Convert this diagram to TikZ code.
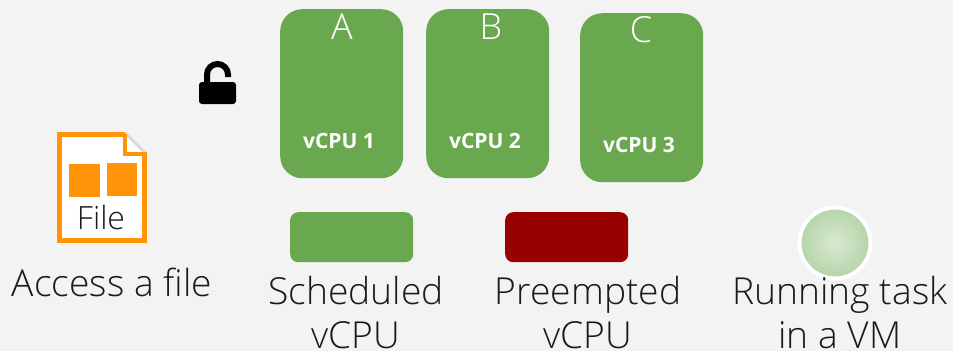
\documentclass[tikz,border=0pt]{standalone}
\usepackage{fontspec}
\setmainfont{Open Sans}
\newfontfamily\lightf{Open Sans Light}
\definecolor{bg}{HTML}{F3F3F3}
\definecolor{grn}{HTML}{6AA84F}
\definecolor{org}{HTML}{FF9409}
\definecolor{dred}{HTML}{990000}
\definecolor{txt}{HTML}{1A1A1A}
\tikzset{
 vcpu/.style={fill=grn,rounded corners=22pt,minimum width=123pt,minimum height=169pt,inner sep=0pt,anchor=north west},
 legendbox/.style={rounded corners=8pt,minimum width=123pt,minimum height=50pt,inner sep=0pt,anchor=north west},
 head/.style={text=white,font=\lightf\fontsize{36}{36}\selectfont,inner sep=0pt},
 cpulabel/.style={text=white,font=\fontsize{21}{21}\selectfont\bfseries,inner sep=0pt},
 caption/.style={text=txt,font=\lightf\fontsize{37.2}{44}\selectfont,align=center,inner sep=0pt},
}
\begin{document}
\begin{tikzpicture}[x=1pt,y=-1pt]
\useasboundingbox[fill=bg] (0,0) rectangle (953,351);
\node[vcpu] (a) at (280,9) {};
\node[vcpu] (b) at (426,9) {};
\node[vcpu] (c) at (580,13) {};
\node[head] (ah) at (342,27) {A};
\node[head] (bh) at (491,27) {B};
\node[head] (ch) at (641,30) {C};
\node[cpulabel] (a1) at (339,141) {vCPU 1};
\node[cpulabel] (b1) at (485,141) {vCPU 2};
\node[cpulabel] (c1) at (639,145) {vCPU 3};
% lock
\fill[black,rounded corners=3pt] (199,82) rectangle (236,104);
\draw[black,line width=6pt] (207,84) -- (207,74.5) arc[start angle=180,end angle=360,radius=10.5] -- (228,77);
% file
\fill[white] (59.5,134.5) -- (124,134.5) -- (144.5,155) -- (144.5,240.5) -- (59.5,240.5) -- cycle;
\draw[black!14,line width=2.5pt] (125,132.5) -- (147,154.5);
\draw[org,line width=5pt,line join=miter] (125,134.5) -- (59.5,134.5) -- (59.5,240.5) -- (144.5,240.5) -- (144.5,153);
\draw[org,line width=4pt,line join=miter] (124.5,134) -- (124.5,154) -- (147,154);
\fill[org] (69,164) rectangle (100,197);
\fill[org] (107,163) rectangle (137,196);
\node[text=txt,font=\lightf\fontsize{32}{32}\selectfont,inner sep=0pt] (ft) at (101,217.5) {File};
\node[caption] (cap1) at (112,282) {Access a file};
% legend
\node[legendbox,fill=grn] (l1) at (290,212) {};
\node[legendbox,fill=dred] (l2) at (505,212) {};
\node[circle,draw=white,line width=4pt,inner sep=0pt,minimum size=71pt,inner color=grn!25!white,outer color=grn!50!white] (l3) at (835,243) {};
\node[caption] (cap2) at (356,313) {Scheduled\\vCPU};
\node[caption] (cap3) at (588,313) {Preempted\\vCPU};
\node[caption] (cap4) at (840,313) {Running task\\in a VM};
\end{tikzpicture}
\end{document}
